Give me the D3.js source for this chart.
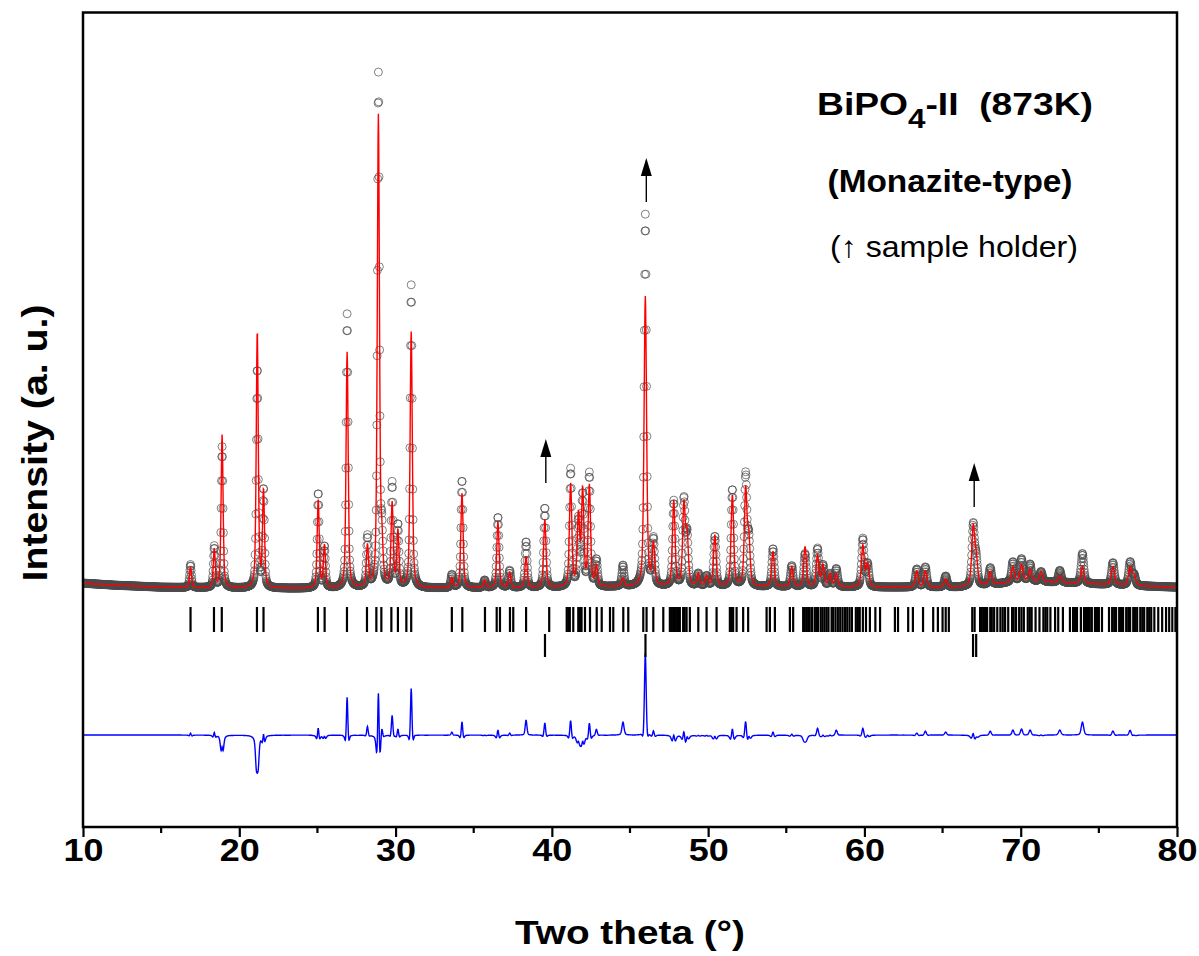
<!DOCTYPE html>
<html>
<head>
<meta charset="utf-8">
<script src="https://cdn.jsdelivr.net/npm/d3@7"></script>
<style>
  html, body { margin: 0; padding: 0; background: #fff; }
  svg { display: block; }
  text { font-family: "Liberation Sans", Arial, sans-serif; }
</style>
</head>
<body>
<svg id="chart" width="1199" height="956"></svg>
<script>
// ---------------- data ----------------
// x-axis ticks
const xTickValues = [10, 20, 30, 40, 50, 60, 70, 80];
const xMinorTicks = [15, 25, 35, 45, 55, 65, 75];

// background (counts) at 2theta positions
const bgPos    = [10, 12, 15, 20, 30, 40, 45, 50, 60, 66, 68, 70, 72, 75, 78, 80];
const bgCounts = [1000, 920, 840, 800, 800, 820, 860, 860, 840, 840, 920, 1080, 1040, 960, 880, 840];

// peak positions (2theta, deg) and heights above background (counts)
const peakPos  = [16.88, 18.40, 18.90, 21.15, 21.55, 25.05, 25.45, 26.90, 28.20, 28.90,
                  29.12, 29.78, 30.15, 31.00, 33.60, 34.25, 35.70, 36.55, 37.30, 38.35,
                  39.55, 41.20, 41.70, 41.97, 42.40, 42.85, 44.55, 45.98, 46.50, 47.80,
                  48.45, 48.65, 49.37, 49.90, 50.43, 51.55, 52.40, 52.60, 54.15, 55.35,
                  56.20, 57.00, 57.35, 57.80, 58.20, 59.90, 60.20, 63.35, 63.90, 65.20,
                  66.96, 67.15, 68.05, 69.50, 70.05, 70.60, 71.30, 72.50, 73.95, 75.90,
                  77.00, 77.25];
const obsHeight = [920, 1640, 5640, 8800, 3920, 3800, 1640, 10960, 2000, 20520,
                   1900, 4120, 2440, 12120, 520, 4320, 300, 2840, 680, 1840,
                   3200, 4700, 2600, 3600, 4500, 1040, 840, 14880, 1800, 3400,
                   3400, 2000, 500, 400, 2000, 3880, 4400, 1800, 1520, 840,
                   1320, 1520, 840, 500, 720, 1920, 900, 720, 800, 440,
                   2400, 1000, 680, 800, 880, 680, 400, 480, 1200, 880,
                   920, 400];
const calcHeight = [840, 1520, 6120, 10240, 3840, 3520, 1680, 9440, 1640, 18840,
                    1520, 3320, 2200, 10240, 400, 3800, 300, 2640, 600, 1240,
                    2720, 4100, 2800, 3800, 4000, 800, 320, 11600, 1640, 3400,
                    3200, 2000, 500, 400, 2040, 3640, 3800, 1800, 1400, 800,
                    1600, 1240, 840, 500, 520, 1640, 900, 640, 640, 320,
                    2300, 1000, 520, 600, 640, 480, 400, 280, 680, 720,
                    720, 400];

// Bragg reflection positions: BiPO4 monazite phase and sample holder
const braggMain = [16.88, 18.38, 18.88, 21.13, 21.55, 25.03, 25.46, 26.89, 28.17, 28.77,
  29.09, 29.73, 30.15, 30.69, 31.00, 33.60, 34.27, 35.72, 36.47, 36.68,
  37.32, 37.53, 38.35, 39.83, 40.95, 41.05, 41.15, 41.37, 41.69, 41.80, 41.90, 42.12,
  42.44, 42.87, 43.19, 43.72, 43.93, 44.57, 44.89, 45.85, 46.06, 46.49,
  47.13, 47.55, 47.66, 47.76, 47.87, 47.98, 48.08, 48.19, 48.40, 48.50, 48.62, 48.83, 49.37, 49.90,
  50.54, 51.39, 51.50, 51.60, 51.82, 52.24, 52.56, 53.74, 53.95, 54.27, 55.23,
  55.44, 56.08, 56.18, 56.29, 56.40, 56.50, 56.65, 56.82, 56.92, 57.03, 57.20, 57.32, 57.45, 57.58, 57.70, 57.90,
  58.00, 58.15, 58.30, 58.45, 58.60, 58.75, 58.90, 59.05, 59.20, 59.45, 59.58, 59.70, 59.90, 60.10, 60.35,
  60.70, 61.00, 61.95, 62.15, 62.80, 63.10, 63.75, 64.40, 64.70, 65.00,
  65.20, 65.40, 66.90, 67.05, 67.40, 67.50, 67.60, 67.72, 67.85, 68.05, 68.15, 68.30, 68.50,
  68.70, 68.85, 69.00, 69.20, 69.45, 69.55, 69.70, 69.90, 70.05, 70.20, 70.45, 70.58, 70.70, 70.95,
  71.20, 71.45, 71.58, 71.70, 71.90, 72.20, 72.40, 72.70, 73.15, 73.35, 73.48, 73.60,
  73.85, 74.05, 74.18, 74.30, 74.42, 74.55, 74.75, 74.88, 75.00, 75.20, 75.65, 75.85, 75.98, 76.10,
  76.30, 76.42, 76.55, 76.75, 76.88, 77.00, 77.20, 77.32, 77.45, 77.65, 77.78, 77.90, 78.10, 78.22, 78.35,
  78.55, 78.80, 79.05, 79.30, 79.50, 79.70, 79.90];
const braggHolder = [39.56, 45.99, 66.95, 67.15];

// annotation arrows (sample holder reflections)
const arrowPos = [39.55, 45.98, 66.96];

// ---------------- drawing ----------------
const L = 83, R = 1177, T = 12.5, B = 827;
const svg = d3.select("#chart");

const x = d3.scaleLinear().domain([10, 80]).range([L, R]);
const y = d3.scaleLinear().domain([-8760, 23840]).range([B, T]);
const diffOffset = -5080;

const bgScale = d3.scaleLinear().domain(bgPos).range(bgCounts);
function fwhm(t) { return 0.12 + 0.0015 * t; }
function profile(t, heights, wf) {
  let s = bgScale(t);
  for (let i = 0; i < peakPos.length; i++) {
    const w = fwhm(peakPos[i]) * wf;
    const d = (t - peakPos[i]) / w;
    if (Math.abs(d) > 14) continue;
    const lor = 1 / (1 + 4 * d * d);
    const gau = Math.exp(-4 * Math.LN2 * d * d);
    s += heights[i] * (0.5 * lor + 0.5 * gau);
  }
  return s;
}

const steps = d3.range(0, 3501).map(i => 10 + i * 0.02);
const pts = steps.map(t => {
  const o = profile(t, obsHeight, 0.9);
  const c = profile(t, calcHeight, 1.0);
  return { t, o, c, d: o - c };
});

svg.append("defs").append("clipPath").attr("id", "clip")
  .append("rect").attr("x", L).attr("y", T).attr("width", R - L).attr("height", B - T);
const plot = svg.append("g").attr("clip-path", "url(#clip)");

// observed circles
plot.append("g").selectAll("circle").data(pts).join("circle")
  .attr("cx", d => x(d.t)).attr("cy", d => y(d.o)).attr("r", 4)
  .attr("fill", "none").attr("stroke", "#4a4a4a").attr("stroke-width", 0.7);

// calculated line
plot.append("path").datum(pts)
  .attr("d", d3.line().x(d => x(d.t)).y(d => y(d.c)))
  .attr("fill", "none").attr("stroke", "#ff0000").attr("stroke-width", 1.4);

// difference
plot.append("path").datum(pts)
  .attr("d", d3.line().x(d => x(d.t)).y(d => y(d.d + diffOffset)))
  .attr("fill", "none").attr("stroke", "#0000ff").attr("stroke-width", 1.4);

// Bragg ticks
plot.append("g").selectAll("line").data(braggMain).join("line")
  .attr("x1", d => x(d)).attr("x2", d => x(d))
  .attr("y1", 607).attr("y2", 632)
  .attr("stroke", "#000").attr("stroke-width", 2.2);
plot.append("g").selectAll("line").data(braggHolder).join("line")
  .attr("x1", d => x(d)).attr("x2", d => x(d))
  .attr("y1", 634).attr("y2", 657)
  .attr("stroke", "#000").attr("stroke-width", 2.2);

// arrows
const arrowTop = { 39.55: 439, 45.98: 158, 66.96: 463 };
arrowPos.forEach(p => {
  const ax = x(p) + 1, top = arrowTop[p];
  svg.append("line").attr("x1", ax).attr("x2", ax)
    .attr("y1", top + 14).attr("y2", top + 44)
    .attr("stroke", "#000").attr("stroke-width", 1.4);
  svg.append("path")
    .attr("d", `M${ax},${top} L${ax - 5.5},${top + 18} L${ax + 5.5},${top + 18} Z`)
    .attr("fill", "#000");
});

// frame
svg.append("rect").attr("x", L).attr("y", T).attr("width", R - L).attr("height", B - T)
  .attr("fill", "none").attr("stroke", "#000").attr("stroke-width", 2.5);

// x axis ticks
const xAxis = d3.axisBottom(x).tickValues(xTickValues).tickSize(10).tickPadding(1)
  .tickFormat(d3.format("d"));
const gx = svg.append("g").attr("transform", `translate(0,${B})`).call(xAxis);
gx.select(".domain").remove();
gx.selectAll(".tick line").attr("stroke", "#000").attr("stroke-width", 2.2);
gx.selectAll(".tick text").attr("font-size", 32).attr("font-weight", "bold")
  .attr("fill", "#000").style("font-family", '"Liberation Sans", Arial, sans-serif')
  .attr("textLength", 40).attr("lengthAdjust", "spacingAndGlyphs");
svg.append("g").selectAll("line").data(xMinorTicks).join("line")
  .attr("x1", d => x(d)).attr("x2", d => x(d)).attr("y1", B).attr("y2", B + 6)
  .attr("stroke", "#000").attr("stroke-width", 2.2);

// axis titles
svg.append("text").attr("x", 630).attr("y", 944).attr("text-anchor", "middle")
  .attr("font-size", 34).attr("font-weight", "bold")
  .attr("textLength", 230).attr("lengthAdjust", "spacingAndGlyphs")
  .text("Two theta (°)");
svg.append("text").attr("transform", "translate(47,443) rotate(-90)")
  .attr("text-anchor", "middle").attr("font-size", 35).attr("font-weight", "bold")
  .attr("textLength", 277).attr("lengthAdjust", "spacingAndGlyphs")
  .text("Intensity (a. u.)");

// annotations
const t1 = svg.append("text").attr("x", 817).attr("y", 115)
  .attr("font-size", 32).attr("font-weight", "bold")
  .attr("textLength", 276).attr("lengthAdjust", "spacingAndGlyphs");
t1.append("tspan").text("BiPO");
t1.append("tspan").attr("dy", 13).attr("font-size", 27).text("4");
t1.append("tspan").attr("dy", -13).text("-II\u00a0\u00a0(873K)");
svg.append("text").attr("x", 950).attr("y", 192).attr("text-anchor", "middle")
  .attr("font-size", 31).attr("font-weight", "bold")
  .attr("textLength", 245).attr("lengthAdjust", "spacingAndGlyphs")
  .text("(Monazite-type)");
svg.append("text").attr("x", 954).attr("y", 257).attr("text-anchor", "middle")
  .attr("font-size", 30)
  .attr("textLength", 248).attr("lengthAdjust", "spacingAndGlyphs")
  .text("(↑ sample holder)");
</script>
</body>
</html>
